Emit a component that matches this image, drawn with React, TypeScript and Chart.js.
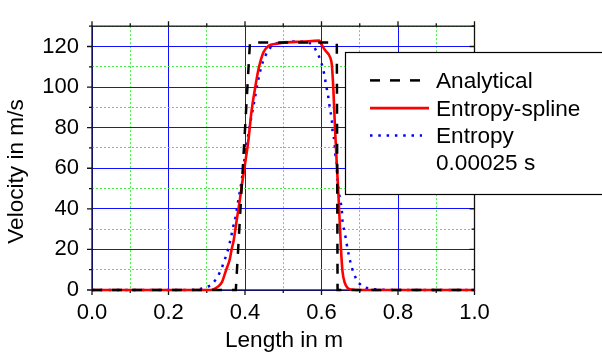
import React, { useEffect, useRef } from "react";
import { Chart, registerables } from "chart.js";

Chart.register(...registerables);

// ---------- data ----------
const analyticalX = [0, 0.376, 0.413, 0.64, 0.642, 1.0];
const analyticalY = [0, 0, 122, 122, 0, 0];

const splineX = [
  0, 0.31, 0.32, 0.33, 0.34, 0.35, 0.36, 0.365, 0.37, 0.378, 0.387, 0.392, 0.4,
  0.409, 0.417, 0.426, 0.435, 0.448, 0.461, 0.483, 0.5, 0.55, 0.594, 0.6, 0.61,
  0.618, 0.625, 0.627, 0.631, 0.635, 0.64, 0.644, 0.647, 0.651, 0.655, 0.661,
  0.668, 0.68, 0.69, 1.0,
];
const splineY = [
  0, 0, 0.5, 1.8, 4, 9.5, 15, 20, 24, 34, 45, 52, 62, 74, 88, 99, 108.5, 117,
  120.2, 121.4, 121.9, 122.4, 122.9, 121, 118, 116.3, 113.2, 111, 99, 81, 62,
  48, 36, 20, 9, 3.5, 1, 0.2, 0, 0,
];

const entropyX = [
  0, 0.25, 0.282, 0.3, 0.315, 0.335, 0.346, 0.356, 0.363, 0.369, 0.376, 0.381,
  0.386, 0.391, 0.397, 0.404, 0.413, 0.424, 0.435, 0.442, 0.452, 0.472, 0.5,
  0.531, 0.561, 0.575, 0.587, 0.6, 0.607, 0.612, 0.618, 0.622, 0.627, 0.629,
  0.634, 0.636, 0.64, 0.641, 0.644, 0.648, 0.653, 0.655, 0.661, 0.666, 0.672,
  0.679, 0.69, 0.7, 0.716, 0.749, 0.78, 1.0,
];
const entropyY = [
  0, 0, 0.5, 1.5, 3.1, 9, 14.4, 20.1, 25.6, 31, 36.7, 42.6, 48, 53.5, 62, 71,
  81.4, 92.7, 103.9, 109.6, 115, 120.5, 122, 122.5, 122, 121, 117.6, 111.8,
  106.5, 101, 94.9, 89.2, 83.8, 78.3, 72.9, 67.1, 62, 56.6, 50.4, 45, 39.5,
  33.8, 28.2, 22.5, 16.7, 11.2, 5.7, 3, 1.1, 0.3, 0, 0,
];

const seriesLabels = ["Analytical", "Entropy-spline", "Entropy"];
const legendNote = "0.00025 s";
const xTitle = "Length in m";
const yTitle = "Velocity in m/s";

const xMin = 0, xMax = 1, xStep = 0.1;
const yMin = 0, yMax = 130, yStep = 10;

// ---------- styling ----------
const FONT = "'Liberation Sans', Arial, Helvetica, sans-serif";
const FS = 22;
const FS_TEXT = 22.6;
const BLUE_GRID = "#1010ff";
const GREEN_GRID = "#44ee44";

const toPts = (xs: number[], ys: number[]) => xs.map((x, i) => ({ x, y: ys[i] }));

const isMajorX = (v: number) => Math.round(v * 10) % 2 === 0;
const isMajorY = (v: number) => Math.round(v) % 20 === 0;

const framePlugin = {
  id: "frameTicks",
  beforeDatasetsDraw(chart: any) {
    const { ctx, chartArea: a, scales } = chart;
    const xs = scales.x, ys = scales.y;
    ctx.save();
    ctx.strokeStyle = "#111";
    ctx.lineWidth = 1.3;
    ctx.strokeRect(a.left, a.top, a.right - a.left, a.bottom - a.top);
    ctx.beginPath();
    xs.ticks.forEach((t: any) => {
      const p = xs.getPixelForValue(t.value);
      const len = isMajorX(t.value) ? 5 : 3;
      ctx.moveTo(p, a.bottom);
      ctx.lineTo(p, a.bottom + len);
      ctx.moveTo(p, a.top);
      ctx.lineTo(p, a.top - len);
    });
    ys.ticks.forEach((t: any) => {
      const p = ys.getPixelForValue(t.value);
      const len = isMajorY(t.value) ? 5 : 3;
      ctx.moveTo(a.left, p);
      ctx.lineTo(a.left - len, p);
      ctx.moveTo(a.right, p);
      ctx.lineTo(a.right - len, p);
    });
    ctx.stroke();
    ctx.restore();
  },
  afterDraw(chart: any) {
    const { ctx, data } = chart;
    ctx.save();
    // legend box (runs past right edge)
    ctx.fillStyle = "#fff";
    ctx.fillRect(345, 52, 280, 142);
    ctx.strokeStyle = "#000";
    ctx.lineWidth = 1.2;
    ctx.strokeRect(345.5, 52.5, 280, 142);

    const baselines = [88.3, 116, 143.3, 170];
    const sampleEnds = [420, 429, 422];
    ctx.font = `${FS_TEXT}px ${FONT}`;
    ctx.textBaseline = "alphabetic";
    ctx.textAlign = "left";
    data.datasets.forEach((ds: any, i: number) => {
      const yMid = baselines[i] - 7.9;
      ctx.beginPath();
      ctx.strokeStyle = ds.borderColor;
      ctx.lineWidth = ds.borderWidth;
      ctx.setLineDash(ds.borderDash || []);
      ctx.lineCap = "butt";
      ctx.moveTo(370, yMid);
      ctx.lineTo(sampleEnds[i], yMid);
      ctx.stroke();
      ctx.setLineDash([]);
      ctx.fillStyle = "#000";
      ctx.fillText(ds.label, 436, baselines[i]);
    });
    ctx.fillStyle = "#000";
    ctx.fillText(legendNote, 436, baselines[3]);

    // axis titles
    ctx.textAlign = "center";
    ctx.fillText(xTitle, 284, 347.3);
    ctx.translate(22.7, 171.5);
    ctx.rotate(-Math.PI / 2);
    ctx.fillText(yTitle, 0, 0);
    ctx.restore();
  },
};

export default function App() {
  const ref = useRef<HTMLCanvasElement | null>(null);

  useEffect(() => {
    if (!ref.current) return;
    const chart = new Chart(ref.current, {
      type: "line",
      data: {
        datasets: [
          {
            label: seriesLabels[0],
            data: toPts(analyticalX, analyticalY),
            borderColor: "#000000",
            borderWidth: 2.5,
            borderDash: [10, 10],
            pointRadius: 0,
            tension: 0,
            clip: false as any,
          },
          {
            label: seriesLabels[1],
            data: toPts(splineX, splineY),
            borderColor: "#ff0000",
            borderWidth: 2.6,
            pointRadius: 0,
            cubicInterpolationMode: "monotone",
            clip: false as any,
          },
          {
            label: seriesLabels[2],
            data: toPts(entropyX, entropyY),
            borderColor: "#0000ff",
            borderWidth: 2.5,
            borderDash: [2.5, 5.8],
            pointRadius: 0,
            cubicInterpolationMode: "monotone",
            clip: false as any,
          },
        ],
      },
      options: {
        responsive: false,
        animation: false,
        layout: { padding: { top: 10.3, right: 127.5, left: 0, bottom: 0 } },
        plugins: { legend: { display: false }, tooltip: { enabled: false } },
        scales: {
          x: {
            type: "linear",
            min: xMin,
            max: xMax,
            afterFit: (s: any) => {
              s.height = 66;
            },
            ticks: {
              stepSize: xStep,
              autoSkip: false,
              maxRotation: 0,
              padding: 10,
              color: "#000",
              font: { family: FONT, size: FS },
              callback: (v: any) => (isMajorX(Number(v)) ? Number(v).toFixed(1) : ""),
            },
            grid: {
              drawTicks: false,
              lineWidth: 1,
              color: (c: any) => (isMajorX(c.tick?.value ?? 0) ? BLUE_GRID : GREEN_GRID),
            },
            border: {
              display: false,
              dash: (c: any) => (isMajorX(c.tick?.value ?? 0) ? [] : [2, 2]),
            },
          },
          y: {
            type: "linear",
            min: yMin,
            max: yMax,
            afterFit: (s: any) => {
              s.width = 92;
            },
            ticks: {
              stepSize: yStep,
              autoSkip: false,
              padding: 13,
              color: "#000",
              font: { family: FONT, size: FS },
              callback: (v: any) => (isMajorY(Number(v)) ? String(Math.round(Number(v))) : ""),
            },
            grid: {
              drawTicks: false,
              lineWidth: 1,
              color: (c: any) => (isMajorY(c.tick?.value ?? 0) ? BLUE_GRID : GREEN_GRID),
            },
            border: {
              display: false,
              dash: (c: any) => (isMajorY(c.tick?.value ?? 0) ? [] : [2, 2]),
            },
          },
        },
      } as any,
      plugins: [framePlugin],
    });
    return () => chart.destroy();
  }, []);

  return (
    <canvas
      ref={ref}
      width={602}
      height={356}
      style={{ position: "fixed", left: 0, top: 0, width: 602, height: 356, display: "block" }}
    />
  );
}
